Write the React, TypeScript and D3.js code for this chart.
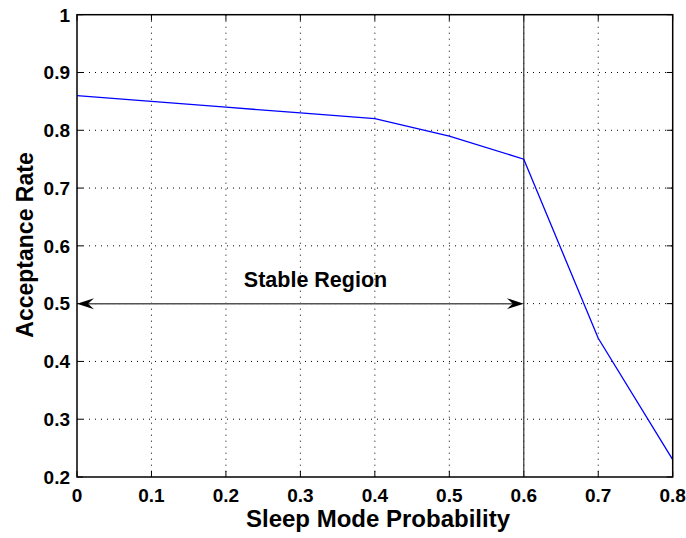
import React from "react";
import * as d3 from "d3";

const xValues = [0, 0.1, 0.2, 0.3, 0.4, 0.5, 0.6, 0.7, 0.8];
const acceptance = [0.86, 0.85, 0.84, 0.83, 0.82, 0.79, 0.75, 0.44, 0.23];
const xTicks = [0, 0.1, 0.2, 0.3, 0.4, 0.5, 0.6, 0.7, 0.8];
const yTicks = [0.2, 0.3, 0.4, 0.5, 0.6, 0.7, 0.8, 0.9, 1];
const stableStart = 0;
const stableEnd = 0.6;
const stableLevel = 0.5;
const stableLabel = "Stable Region";

const W = 686, H = 538;
const left = 77, right = 672.7, top = 14.7, bottom = 477;
const font = "'Liberation Sans', Arial, Helvetica, sans-serif";

export default function App() {
  const x = d3.scaleLinear().domain([0, 0.8]).range([left, right]);
  const y = d3.scaleLinear().domain([0.2, 1]).range([bottom, top]);
  const line = d3.line<number>().x((_, i) => x(xValues[i])).y((d) => y(d));
  const fmt = (v: number) => (v === 0 ? "0" : v === 1 ? "1" : String(v));
  const tl = 6;
  const ay = y(stableLevel);
  const ax0 = x(stableStart), ax1 = x(stableEnd);
  const head = (tip: number, dir: number) => {
    const len = 17, half = 5.5, notch = 11;
    return `M${tip},${ay} L${tip + dir * len},${ay - half} L${tip + dir * notch},${ay} L${tip + dir * len},${ay + half} Z`;
  };
  return (
    <svg width={W} height={H} style={{ position: "absolute", left: 0, top: 0, background: "#fff" }}>
      <rect x={0} y={0} width={W} height={H} fill="#fff" />
      {/* grid */}
      {xTicks.slice(1, -1).map((t) => (
        <line key={"gx" + t} x1={x(t)} x2={x(t)} y1={top} y2={bottom} stroke="#000" strokeWidth={1} strokeDasharray="1,5" />
      ))}
      {yTicks.slice(1, -1).map((t) => (
        <line key={"gy" + t} x1={left} x2={right} y1={y(t)} y2={y(t)} stroke="#000" strokeWidth={1} strokeDasharray="1,5" />
      ))}
      {/* ticks */}
      {xTicks.map((t) => (
        <g key={"tx" + t}>
          <line x1={x(t)} x2={x(t)} y1={bottom} y2={bottom - tl} stroke="#000" />
          <line x1={x(t)} x2={x(t)} y1={top} y2={top + tl} stroke="#000" />
          <text x={x(t)} y={502} textAnchor="middle" fontFamily={font} fontWeight="bold" fontSize={19}>{fmt(t)}</text>
        </g>
      ))}
      {yTicks.map((t) => (
        <g key={"ty" + t}>
          <line x1={left} x2={left + tl} y1={y(t)} y2={y(t)} stroke="#000" />
          <line x1={right} x2={right - tl} y1={y(t)} y2={y(t)} stroke="#000" />
          <text x={70} y={y(t) + 6.8} textAnchor="end" fontFamily={font} fontWeight="bold" fontSize={19}>{fmt(t)}</text>
        </g>
      ))}
      {/* vertical marker */}
      <line x1={x(stableEnd)} x2={x(stableEnd)} y1={top} y2={bottom} stroke="#333" strokeWidth={1.2} />
      {/* arrow */}
      <line x1={ax0 + 5} x2={ax1 - 5} y1={ay} y2={ay} stroke="#555" strokeWidth={1.5} />
      <path d={head(ax0, 1)} fill="#000" />
      <path d={head(ax1, -1)} fill="#000" />
      <text x={315.5} y={287} textAnchor="middle" fontFamily={font} fontWeight="bold" fontSize={21.5}>{stableLabel}</text>
      {/* data */}
      <path d={line(acceptance) || ""} fill="none" stroke="#0000ff" strokeWidth={1.3} />
      {/* box */}
      <rect x={left} y={top} width={right - left} height={bottom - top} fill="none" stroke="#000" strokeWidth={1.5} />
      {/* labels */}
      <text x={378} y={527} textAnchor="middle" fontFamily={font} fontWeight="bold" fontSize={24}>Sleep Mode Probability</text>
      <text transform={`translate(33,245) rotate(-90)`} textAnchor="middle" fontFamily={font} fontWeight="bold" fontSize={23}>Acceptance Rate</text>
    </svg>
  );
}
